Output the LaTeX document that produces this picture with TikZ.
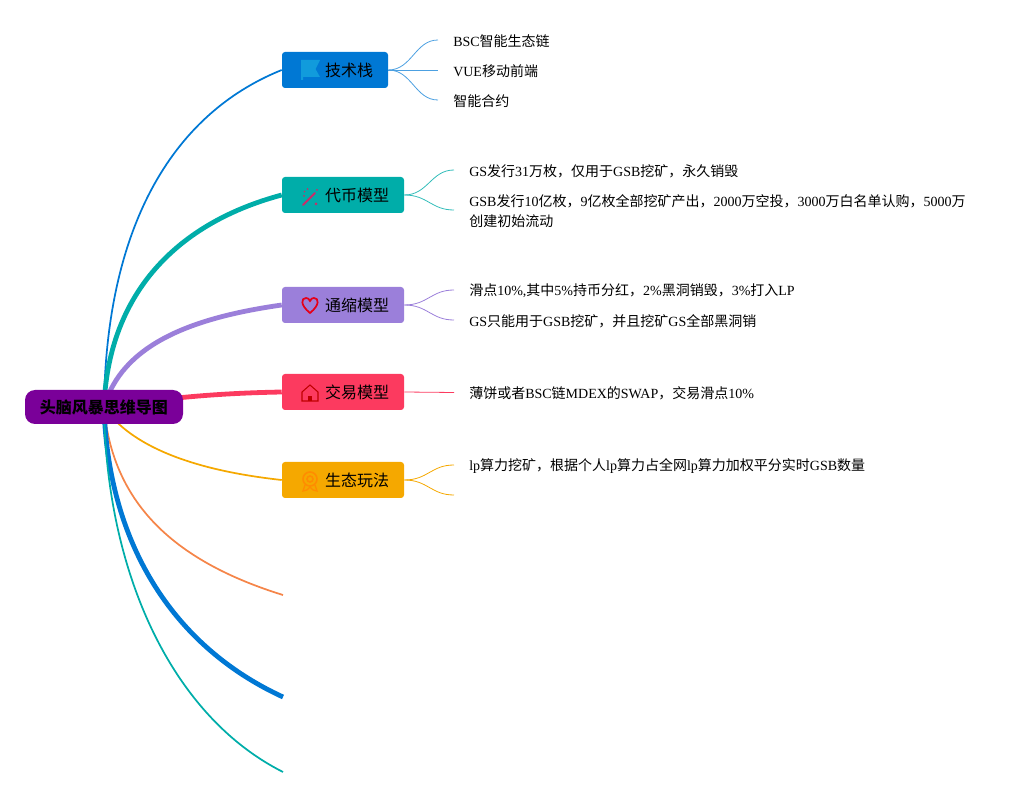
\documentclass[tikz,border=0pt]{standalone}
\usepackage{fontspec}
\setmainfont{Liberation Serif}
\newfontfamily\cjk{Noto Sans CJK SC}
\newcommand{\cn}[1]{{\cjk #1}}
\usetikzlibrary{backgrounds}
\definecolor{techblue}{HTML}{0078D4}
\definecolor{cointeal}{HTML}{00ADA9}
\definecolor{burnpurple}{HTML}{9B7FDA}
\definecolor{tradered}{HTML}{FC3A5F}
\definecolor{ecoamber}{HTML}{F5A800}
\definecolor{extraorange}{HTML}{F58549}
\definecolor{rootpurple}{HTML}{7A0099}
\tikzset{
	rootbox/.style={fill=rootpurple, rounded corners=7.5pt, minimum width=118.5pt, minimum height=25.5pt, inner sep=0pt, font=\fontsize{12}{14}\selectfont\bfseries},
	branchbox/.style={rounded corners=2.25pt, minimum height=27pt, inner sep=0pt, font=\fontsize{12}{14}\selectfont},
	leaf/.style={anchor=west, inner sep=0pt, align=left, font=\fontsize{10.5}{15.5}\selectfont},
	twig/.style={line width=0.6pt},
	wide/.style={line width=3.6pt},
	slim/.style={line width=1.3pt}
}
\begin{document}
\begin{tikzpicture}[x=0.75pt, y=-0.75pt]
	\useasboundingbox (0,0) rectangle (1029,798);
	% root and branches
	\node [rootbox] (root) at (104,407) {\cn{头脑风暴思维导图}};
	\node [branchbox, fill=techblue, minimum width=79.5pt] (tech) at (335,70) {\hspace*{21pt}\cn{技术栈}};
	\node [branchbox, fill=cointeal, minimum width=91.5pt] (coin) at (343,195) {\hspace*{21pt}\cn{代币模型}};
	\node [branchbox, fill=burnpurple, minimum width=91.5pt] (burn) at (343,305) {\hspace*{21pt}\cn{通缩模型}};
	\node [branchbox, fill=tradered, minimum width=91.5pt] (trade) at (343,392) {\hspace*{21pt}\cn{交易模型}};
	\node [branchbox, fill=ecoamber, minimum width=91.5pt] (eco) at (343,480) {\hspace*{21pt}\cn{生态玩法}};
	% free ends of the empty branches
	\coordinate (extraA) at (283,595);
	\coordinate (extraB) at (283,697);
	\coordinate (extraC) at (283,772);
	% leaves
	\node [leaf] (techA) at (453,41) {BSC\cn{智能生态链}};
	\node [leaf] (techB) at (453,71) {VUE\cn{移动前端}};
	\node [leaf] (techC) at (453,101) {\cn{智能合约}};
	\node [leaf] (coinA) at (469,171) {GS\cn{发行}31\cn{万枚，仅用于}GSB\cn{挖矿，永久销毁}};
	\node [leaf] (coinB) at (469,211) {GSB\cn{发行}10\cn{亿枚，}9\cn{亿枚全部挖矿产出，}2000\cn{万空投，}3000\cn{万白名单认购，}5000\cn{万}\\\cn{创建初始流动}};
	\node [leaf] (burnA) at (469,291) {\cn{滑点}10\%,\cn{其中}5\%\cn{持币分红，}2\%\cn{黑洞销毁，}3\%\cn{打入}LP};
	\node [leaf] (burnB) at (469,321) {GS\cn{只能用于}GSB\cn{挖矿，并且挖矿}GS\cn{全部黑洞销}};
	\node [leaf] (tradeA) at (469,393) {\cn{薄饼或者}BSC\cn{链}MDEX\cn{的}SWAP\cn{，交易滑点}10\%};
	\node [leaf] (ecoA) at (469,466) {lp\cn{算力挖矿，根据个人}lp\cn{算力占全网}lp\cn{算力加权平分实时}GSB\cn{数量}};
	% twig ends, a little before the leaves
	\coordinate (tA) at (438,40);
	\coordinate (tB) at (438,70);
	\coordinate (tC) at (438,100);
	\coordinate (cA) at (454,170);
	\coordinate (cB) at (454,210);
	\coordinate (bA) at (454,290);
	\coordinate (bB) at (454,320);
	\coordinate (rA) at (454,392.5);
	\coordinate (eA) at (454,465);
	\coordinate (eB) at (454,495);
	\begin{scope}[on background layer]
		\draw [slim, color=techblue] (root.center) .. controls (106,230) and (170,115) .. (tech.west);
		\draw [wide, color=cointeal] (root.center) .. controls (108,300) and (170,225) .. (coin.west);
		\draw [wide, color=burnpurple] (root.center) .. controls (122,345) and (190,318) .. (burn.west);
		\draw [wide, color=tradered] (root.center) .. controls (180,396) and (230,393) .. (trade.west);
		\draw [slim, color=ecoamber] (root.center) .. controls (130,445) and (190,470) .. (eco.west);
		\draw [slim, color=extraorange] (root.center) .. controls (112,500) and (170,560) .. (extraA);
		\draw [wide, color=techblue] (root.center) .. controls (108,540) and (170,645) .. (extraB);
		\draw [slim, color=cointeal] (root.center) .. controls (106,570) and (170,715) .. (extraC);
		% twigs
		\draw [twig, color=techblue!70] (tech.east) .. controls (412,70) and (415,40) .. (tA);
		\draw [twig, color=techblue!70] (tech.east) -- (tB);
		\draw [twig, color=techblue!70] (tech.east) .. controls (412,70) and (415,100) .. (tC);
		\draw [twig, color=cointeal!80] (coin.east) .. controls (428,195) and (431,170) .. (cA);
		\draw [twig, color=cointeal!80] (coin.east) .. controls (428,195) and (431,210) .. (cB);
		\draw [twig, color=burnpurple] (burn.east) .. controls (428,305) and (431,290) .. (bA);
		\draw [twig, color=burnpurple] (burn.east) .. controls (428,305) and (431,320) .. (bB);
		\draw [twig, color=tradered] (trade.east) -- (rA);
		\draw [twig, color=ecoamber] (eco.east) .. controls (428,480) and (431,465) .. (eA);
		\draw [twig, color=ecoamber] (eco.east) .. controls (428,480) and (431,495) .. (eB);
	\end{scope}
	% icons
	\fill [color=cyan!70!techblue] (301,60) -- (320,60) -- (315.5,69) -- (320,77) -- (303,77) -- (303,80) -- (301,80) -- cycle;
	\draw [line width=1.5pt, color=magenta!70!red!80!black, line cap=round] (303,205) -- (315,193);
	\draw [line width=1pt, color=magenta!70!red!80!black, dotted] (304,192) -- (310,187);
	\fill [color=magenta!70!red!80!black] (316,204) circle (1.5) (304,196) circle (1) (317,190) circle (1);
	\draw [line width=1.3pt, color=red!60!purple] (310,313) .. controls (300,305) and (301,298) .. (306,298) .. controls (308,298) and (309,299) .. (310,301) .. controls (311,299) and (312,298) .. (314,298) .. controls (319,298) and (320,305) .. (310,313) -- cycle;
	\draw [line width=0.8pt, color=red!75!black] (302,392) -- (310,385) -- (318,392) -- (318,401) -- (302,401) -- cycle;
	\fill [color=red!75!black] (308,396) rectangle (312,401);
	\draw [line width=1.2pt, color=orange!90!yellow] (310,479) circle (7);
	\draw [line width=1.2pt, color=orange!90!yellow] (310,479) circle (3);
	\draw [line width=1pt, color=orange!90!yellow] (305,485) -- (303,491) -- (307,490) -- (310,487) -- (313,490) -- (317,491) -- (315,485);
\end{tikzpicture}
\end{document}
